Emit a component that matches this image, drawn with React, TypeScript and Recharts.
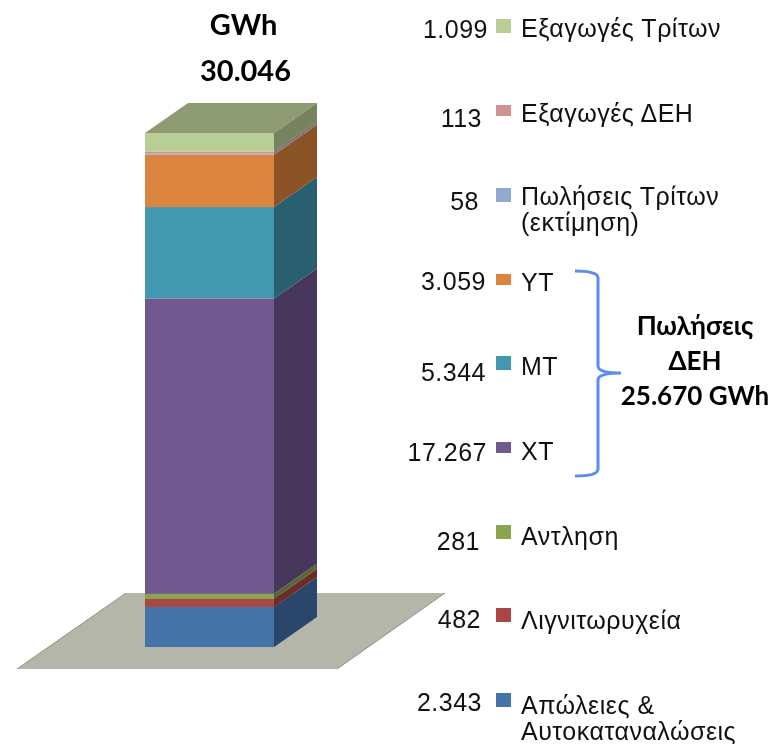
import { BarChart, Bar, XAxis, YAxis } from 'recharts'

// bottom to top of the column
const SERIES = ['Απώλειες', 'Λιγνιτωρυχεία', 'Αντληση', 'ΧΤ', 'ΜΤ', 'ΥΤ', 'Πωλήσεις Τρίτων', 'Εξαγωγές ΔΕΗ', 'Εξαγωγές Τρίτων']
const VALUES = [2343, 482, 281, 17267, 5344, 3059, 58, 113, 1099]
const TOTAL = 30046

const FRONT = ['#4572a7', '#aa4643', '#89a54e', '#71588f', '#4198af', '#db843d', '#93a9cf', '#d19392', '#b9cd96']
const SIDE = ['#2a466b', '#6d2c2a', '#566832', '#48375c', '#295f6e', '#8a5427', '#5d6b84', '#85605f', '#77825f']
const TOP_COLOR = '#8e9b72'

const row: Record<string, string | number> = { name: 'GWh' }
SERIES.forEach((s, i) => { row[s] = VALUES[i] })
const data = [row]

const DEPTH_X = 43
const DEPTH_Y = 30

// top to bottom, as in the legend
const LEGEND_NUMBERS = ['1.099', '113', '58', '3.059', '5.344', '17.267', '281', '482', '2.343']
const LEGEND_LINES = [
  ['Εξαγωγές Τρίτων'],
  ['Εξαγωγές ΔΕΗ'],
  ['Πωλήσεις Τρίτων', '(εκτίμηση)'],
  ['ΥΤ'],
  ['ΜΤ'],
  ['ΧΤ'],
  ['Αντληση'],
  ['Λιγνιτωρυχεία'],
  ['Απώλειες &', 'Αυτοκαταναλώσεις'],
]
const NUMBER_RIGHT = [488, 482, 479, 486, 486, 487, 480, 481, 482]
const NUMBER_Y = [38, 127, 210, 290, 381, 461, 550, 628, 711]
const SWATCH_Y = [19, 105, 188, 274, 356, 442, 525, 608, 693]
const SWATCH_H = [14, 11, 14, 11, 14, 11, 14, 14, 14]
const LABEL_Y = [37, 122, 205, 291, 375, 460, 545, 629, 714]
const LABEL_LEADING = 26

const ARIAL = '"Liberation Sans", Arial, sans-serif'
const CALIBRI = 'Lato, "Open Sans", sans-serif'

function Block(props: any) {
  const { x, y, width, height, index, fill } = props
  const sideFill = SIDE[index]
  const r = x + width
  return (
    <g>
      <rect x={x} y={y} width={width} height={height} fill={fill} />
      <polygon
        points={`${r},${y} ${r + DEPTH_X},${y - DEPTH_Y} ${r + DEPTH_X},${y + height - DEPTH_Y} ${r},${y + height}`}
        fill={sideFill}
      />
      {index === SERIES.length - 1 && (
        <polygon
          points={`${x},${y} ${x + DEPTH_X},${y - DEPTH_Y} ${r + DEPTH_X},${y - DEPTH_Y} ${r},${y}`}
          fill={TOP_COLOR}
        />
      )}
    </g>
  )
}

export default function App() {
  return (
    <div style={{ position: 'absolute', left: 0, top: 0, width: 773, height: 744, overflow: 'hidden', background: '#fff', filter: 'blur(0.45px)' }}>
      {/* floor of the 3d plot */}
      <svg width={773} height={744} style={{ position: 'absolute', left: 0, top: 0 }}>
        <polygon points="17,669 337,669 445,593 126,593" fill="#b3b6a8" />
        <line x1={17} y1={669} x2={126} y2={593} stroke="#8f9187" strokeWidth={1} />
        <line x1={337} y1={669} x2={445} y2={593} stroke="#8f9187" strokeWidth={1} />
      </svg>

      <div style={{ position: 'absolute', left: 0, top: 0 }}>
        <BarChart width={773} height={744} data={data} barCategoryGap={0}
          margin={{ top: 133, bottom: 97, left: 145, right: 499.5 }}>
          <XAxis dataKey="name" hide />
          <YAxis hide domain={[0, TOTAL]} />
          {SERIES.map((s, i) => (
            <Bar key={s} dataKey={s} stackId="a" fill={FRONT[i]}
              isAnimationActive={false}
              shape={(p: any) => <Block {...p} index={i} />} />
          ))}
        </BarChart>
      </div>

      <svg width={773} height={744} style={{ position: 'absolute', left: 0, top: 0 }}>
        <text x={243.5} y={35} textAnchor="middle" fontFamily={CALIBRI} fontWeight={700} fontSize={29} fill="#000">GWh</text>
        <text x={245.5} y={81} textAnchor="middle" fontFamily={CALIBRI} fontWeight={700} fontSize={29} fill="#000">30.046</text>

        {LEGEND_NUMBERS.map((n, i) => (
          <text key={n} x={NUMBER_RIGHT[i]} y={NUMBER_Y[i]} textAnchor="end" fontFamily={ARIAL} fontSize={25} letterSpacing={0.5} fill="#111">{n}</text>
        ))}
        {LEGEND_LINES.map((lines, i) => {
          const color = FRONT[FRONT.length - 1 - i]
          return (
            <g key={lines[0]}>
              <rect x={496} y={SWATCH_Y[i]} width={15} height={SWATCH_H[i]} fill={color} />
              {lines.map((l, j) => (
                <text key={l} x={521} y={LABEL_Y[i] + j * LABEL_LEADING} fontFamily={ARIAL} fontSize={25} letterSpacing={0.5} fill="#111">{l}</text>
              ))}
            </g>
          )
        })}

        <path d="M575,271 Q598,271 598,278 L598,366 Q598,373 621,373 Q598,373 598,380 L598,469 Q598,476 575,476"
          fill="none" stroke="#5b8cf0" strokeWidth={3} />

        <text x={695} y={335} textAnchor="middle" fontFamily={CALIBRI} fontWeight={700} fontSize={26} fill="#000">Πωλήσεις</text>
        <text x={695} y={370} textAnchor="middle" fontFamily={CALIBRI} fontWeight={700} fontSize={26} fill="#000">ΔΕΗ</text>
        <text x={695} y={405} textAnchor="middle" fontFamily={CALIBRI} fontWeight={700} fontSize={26} fill="#000">25.670 GWh</text>
      </svg>
    </div>
  )
}
